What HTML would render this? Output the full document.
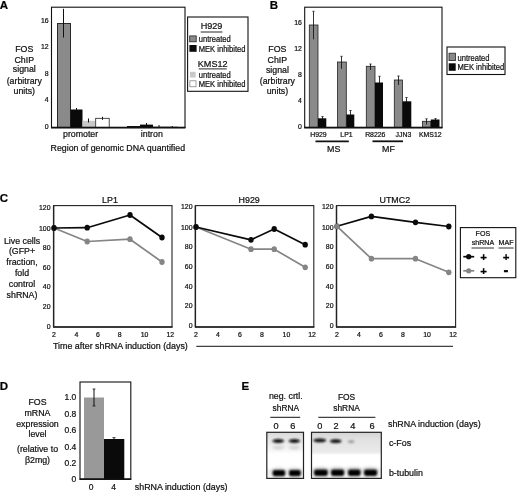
<!DOCTYPE html>
<html><head><meta charset="utf-8"><title>Figure</title>
<style>
html,body{margin:0;padding:0;background:#fff;}
body{width:520px;height:496px;overflow:hidden;}
svg{display:block;font-family:"Liberation Sans",Arial,sans-serif;}
text{stroke:#111;stroke-width:0.22px;}
</style></head><body>
<svg width="520" height="496" viewBox="0 0 520 496">
<rect width="520" height="496" fill="#fff"/>
<text x="-0.2" y="9.1" font-size="11.5" text-anchor="start" font-weight="bold" fill="#000" >A</text>
<rect x="57.5" y="23.5" width="13.0" height="104.0" fill="#8a8a8a" stroke="#2a2a2a" stroke-width="1"/>
<line x1="63.5" y1="8.8" x2="63.5" y2="37.5" stroke="#111" stroke-width="1" />
<rect x="70.5" y="109.5" width="12.0" height="18.0" fill="#0a0a0a" stroke="none" stroke-width="1"/>
<line x1="76.5" y1="108" x2="76.5" y2="110" stroke="#111" stroke-width="1" />
<rect x="82.5" y="120.8" width="13.0" height="6.7" fill="#c8c8c8" stroke="none" stroke-width="1"/>
<line x1="88.5" y1="118.5" x2="88.5" y2="122.5" stroke="#111" stroke-width="1" />
<rect x="95.7" y="118.3" width="13.5" height="9.2" fill="#fff" stroke="#222" stroke-width="0.8"/>
<line x1="102.5" y1="116.8" x2="102.5" y2="119.8" stroke="#111" stroke-width="1" />
<line x1="127" y1="126.5" x2="140" y2="126.5" stroke="#111" stroke-width="1" />
<rect x="140" y="124.6" width="13" height="2.9" fill="#0a0a0a" stroke="none" stroke-width="1"/>
<line x1="146.5" y1="123" x2="146.5" y2="125" stroke="#111" stroke-width="1" />
<line x1="159" y1="125" x2="159" y2="127" stroke="#111" stroke-width="1" />
<line x1="153" y1="127" x2="178" y2="127" stroke="#555" stroke-width="0.6" />
<line x1="172.3" y1="126" x2="172.3" y2="127" stroke="#111" stroke-width="1" />
<rect x="51.5" y="7.2" width="133.5" height="120.3" fill="none" stroke="#111" stroke-width="1.1"/>
<line x1="51" y1="127.6" x2="185.5" y2="127.6" stroke="#111" stroke-width="1.6" />
<text x="48.6" y="23.07" font-size="6.9" text-anchor="end" font-weight="normal" fill="#111" >16</text>
<text x="48.6" y="49.47" font-size="6.9" text-anchor="end" font-weight="normal" fill="#111" >12</text>
<text x="48.6" y="76.27" font-size="6.9" text-anchor="end" font-weight="normal" fill="#111" >8</text>
<text x="48.6" y="102.07" font-size="6.9" text-anchor="end" font-weight="normal" fill="#111" >4</text>
<text x="48.6" y="128.77" font-size="6.9" text-anchor="end" font-weight="normal" fill="#111" >0</text>
<text x="24.3" y="51.55" font-size="8.8" text-anchor="middle" font-weight="normal" fill="#111" >FOS</text>
<text x="24.3" y="62.55" font-size="8.8" text-anchor="middle" font-weight="normal" fill="#111" >ChIP</text>
<text x="24.3" y="72.49" font-size="8.8" text-anchor="middle" font-weight="normal" fill="#111" >signal</text>
<text x="24.3" y="83.99" font-size="8.8" text-anchor="middle" font-weight="normal" fill="#111" >(arbitrary</text>
<text x="24.3" y="93.99" font-size="8.8" text-anchor="middle" font-weight="normal" fill="#111" >units)</text>
<text x="80.6" y="137.39" font-size="8.8" text-anchor="middle" font-weight="normal" fill="#111" >promoter</text>
<text x="151.8" y="137.39" font-size="8.8" text-anchor="middle" font-weight="normal" fill="#111" >intron</text>
<text x="117.8" y="150.89" font-size="8.8" text-anchor="middle" font-weight="normal" fill="#111" >Region of genomic DNA quantified</text>
<rect x="187.6" y="17" width="60.4" height="74.3" fill="#fff" stroke="#111" stroke-width="1.1"/>
<text x="211.5" y="29.26" font-size="9.1" text-anchor="middle" font-weight="normal" fill="#111" >H929</text>
<line x1="200.7" y1="32" x2="222.5" y2="32" stroke="#111" stroke-width="0.9" />
<rect x="189.7" y="35.9" width="6.5" height="5.9" fill="#8a8a8a" stroke="#222" stroke-width="0.8"/>
<text transform="translate(198.7,41.83) scale(0.92,1)" font-size="8.26" text-anchor="start" fill="#111">untreated</text>
<rect x="189.4" y="45" width="7.2" height="6.8" fill="#0a0a0a" stroke="none" stroke-width="1"/>
<text transform="translate(198.7,51.83) scale(0.92,1)" font-size="8.26" text-anchor="start" fill="#111">MEK inhibited</text>
<text x="212.7" y="67.01" font-size="9.1" text-anchor="middle" font-weight="normal" fill="#111" >KMS12</text>
<line x1="198.7" y1="68.9" x2="226.7" y2="68.9" stroke="#111" stroke-width="0.9" />
<rect x="190" y="71.8" width="5.6" height="5.7" fill="#c8c8c8" stroke="none" stroke-width="1"/>
<text transform="translate(198.7,77.73) scale(0.92,1)" font-size="8.26" text-anchor="start" fill="#111">untreated</text>
<rect x="189.9" y="80.8" width="6.1" height="6.0" fill="#fff" stroke="#777" stroke-width="0.7"/>
<text transform="translate(198.7,86.73) scale(0.92,1)" font-size="8.26" text-anchor="start" fill="#111">MEK inhibited</text>
<text x="269.8" y="9.1" font-size="11.5" text-anchor="start" font-weight="bold" fill="#000" >B</text>
<rect x="309.3" y="25" width="8.7" height="102.5" fill="#8a8a8a" stroke="#222" stroke-width="0.8"/>
<line x1="313.5" y1="11.3" x2="313.5" y2="39.3" stroke="#111" stroke-width="0.85" />
<line x1="312.3" y1="11.3" x2="314.7" y2="11.3" stroke="#111" stroke-width="0.7" />
<rect x="318" y="118.3" width="8.3" height="9.2" fill="#0a0a0a" stroke="none" stroke-width="1"/>
<line x1="322.5" y1="116.6" x2="322.5" y2="119" stroke="#111" stroke-width="0.85" />
<line x1="321.3" y1="116.6" x2="323.7" y2="116.6" stroke="#111" stroke-width="0.7" />
<rect x="337.5" y="62" width="8.8" height="65.5" fill="#8a8a8a" stroke="#222" stroke-width="0.8"/>
<line x1="341.5" y1="56.3" x2="341.5" y2="68.8" stroke="#111" stroke-width="0.85" />
<line x1="340.3" y1="56.3" x2="342.7" y2="56.3" stroke="#111" stroke-width="0.7" />
<rect x="346.3" y="114.5" width="8.0" height="13.0" fill="#0a0a0a" stroke="none" stroke-width="1"/>
<line x1="350.5" y1="110.5" x2="350.5" y2="115" stroke="#111" stroke-width="0.85" />
<line x1="349.3" y1="110.5" x2="351.7" y2="110.5" stroke="#111" stroke-width="0.7" />
<rect x="366.3" y="66.3" width="8.7" height="61.2" fill="#8a8a8a" stroke="#222" stroke-width="0.8"/>
<line x1="370.5" y1="64" x2="370.5" y2="70" stroke="#111" stroke-width="0.85" />
<line x1="369.3" y1="64" x2="371.7" y2="64" stroke="#111" stroke-width="0.7" />
<rect x="375" y="82.5" width="8" height="45.0" fill="#0a0a0a" stroke="none" stroke-width="1"/>
<line x1="379.5" y1="76.3" x2="379.5" y2="83" stroke="#111" stroke-width="0.85" />
<line x1="378.3" y1="76.3" x2="380.7" y2="76.3" stroke="#111" stroke-width="0.7" />
<rect x="394.3" y="80" width="8.2" height="47.5" fill="#8a8a8a" stroke="#222" stroke-width="0.8"/>
<line x1="398.5" y1="76" x2="398.5" y2="85" stroke="#111" stroke-width="0.85" />
<line x1="397.3" y1="76" x2="399.7" y2="76" stroke="#111" stroke-width="0.7" />
<rect x="402.5" y="101.3" width="8.8" height="26.2" fill="#0a0a0a" stroke="none" stroke-width="1"/>
<line x1="406.5" y1="97.5" x2="406.5" y2="102" stroke="#111" stroke-width="0.85" />
<line x1="405.3" y1="97.5" x2="407.7" y2="97.5" stroke="#111" stroke-width="0.7" />
<rect x="422.5" y="121.3" width="8.3" height="6.2" fill="#8a8a8a" stroke="#222" stroke-width="0.8"/>
<line x1="426.5" y1="118.8" x2="426.5" y2="124.5" stroke="#111" stroke-width="0.85" />
<line x1="425.3" y1="118.8" x2="427.7" y2="118.8" stroke="#111" stroke-width="0.7" />
<rect x="430.8" y="119.5" width="8.7" height="8.0" fill="#0a0a0a" stroke="none" stroke-width="1"/>
<line x1="435.5" y1="118.6" x2="435.5" y2="120" stroke="#111" stroke-width="0.85" />
<line x1="434.3" y1="118.6" x2="436.7" y2="118.6" stroke="#111" stroke-width="0.7" />
<rect x="304.7" y="7.2" width="137.3" height="120.3" fill="none" stroke="#111" stroke-width="1.1"/>
<line x1="304.2" y1="127.6" x2="442.5" y2="127.6" stroke="#111" stroke-width="1.6" />
<text x="301.8" y="24.77" font-size="6.9" text-anchor="end" font-weight="normal" fill="#111" >16</text>
<text x="301.8" y="50.97" font-size="6.9" text-anchor="end" font-weight="normal" fill="#111" >12</text>
<text x="301.8" y="77.27" font-size="6.9" text-anchor="end" font-weight="normal" fill="#111" >8</text>
<text x="301.8" y="103.17" font-size="6.9" text-anchor="end" font-weight="normal" fill="#111" >4</text>
<text x="301.8" y="129.47" font-size="6.9" text-anchor="end" font-weight="normal" fill="#111" >0</text>
<text x="277.4" y="51.75" font-size="8.8" text-anchor="middle" font-weight="normal" fill="#111" >FOS</text>
<text x="277.4" y="62.85" font-size="8.8" text-anchor="middle" font-weight="normal" fill="#111" >ChIP</text>
<text x="277.4" y="72.99" font-size="8.8" text-anchor="middle" font-weight="normal" fill="#111" >signal</text>
<text x="277.4" y="84.19" font-size="8.8" text-anchor="middle" font-weight="normal" fill="#111" >(arbitrary</text>
<text x="277.4" y="94.29" font-size="8.8" text-anchor="middle" font-weight="normal" fill="#111" >units)</text>
<text x="318.4" y="137.07" font-size="6.9" text-anchor="middle" font-weight="normal" fill="#111" >H929</text>
<text x="346.5" y="137.07" font-size="6.9" text-anchor="middle" font-weight="normal" fill="#111" >LP1</text>
<text x="375.3" y="137.07" font-size="6.9" text-anchor="middle" font-weight="normal" fill="#111" >R8226</text>
<text x="403.4" y="137.07" font-size="6.9" text-anchor="middle" font-weight="normal" fill="#111" >JJN3</text>
<text x="430.3" y="137.07" font-size="6.9" text-anchor="middle" font-weight="normal" fill="#111" >KMS12</text>
<line x1="315.5" y1="141.3" x2="348.8" y2="141.3" stroke="#111" stroke-width="1.8" />
<line x1="372.5" y1="141.3" x2="403" y2="141.3" stroke="#111" stroke-width="1.8" />
<text x="333.7" y="152.49" font-size="8.9" text-anchor="middle" font-weight="normal" fill="#111" >MS</text>
<text x="388.5" y="152.49" font-size="8.9" text-anchor="middle" font-weight="normal" fill="#111" >MF</text>
<rect x="447" y="47" width="58" height="27.5" fill="#fff" stroke="#111" stroke-width="1.1"/>
<rect x="449" y="53.2" width="6.4" height="7.4" fill="#8a8a8a" stroke="#222" stroke-width="0.8"/>
<text transform="translate(457.5,60.63) scale(0.92,1)" font-size="8.26" text-anchor="start" fill="#111">untreated</text>
<rect x="448.7" y="63.3" width="7.0" height="7.5" fill="#0a0a0a" stroke="none" stroke-width="1"/>
<text transform="translate(457.5,70.13) scale(0.92,1)" font-size="8.26" text-anchor="start" fill="#111">MEK inhibited</text>
<text x="-0.2" y="202.1" font-size="11.5" text-anchor="start" font-weight="bold" fill="#000" >C</text>
<rect x="53.6" y="205.6" width="118.4" height="121.4" fill="none" stroke="#222" stroke-width="1.1"/>
<line x1="53.1" y1="327" x2="172.5" y2="327" stroke="#222" stroke-width="1.5" />
<line x1="53.6" y1="205.6" x2="53.6" y2="327" stroke="#222" stroke-width="1.4" />
<text x="110" y="202.69" font-size="8.9" text-anchor="middle" font-weight="normal" fill="#111" >LP1</text>
<text x="50.5" y="210.17" font-size="6.9" text-anchor="end" font-weight="normal" fill="#111" >120</text>
<text x="50.5" y="230.67" font-size="6.9" text-anchor="end" font-weight="normal" fill="#111" >100</text>
<text x="50.5" y="249.97" font-size="6.9" text-anchor="end" font-weight="normal" fill="#111" >80</text>
<text x="50.5" y="269.77" font-size="6.9" text-anchor="end" font-weight="normal" fill="#111" >60</text>
<text x="50.5" y="289.47" font-size="6.9" text-anchor="end" font-weight="normal" fill="#111" >40</text>
<text x="50.5" y="309.17" font-size="6.9" text-anchor="end" font-weight="normal" fill="#111" >20</text>
<text x="50.5" y="328.87" font-size="6.9" text-anchor="end" font-weight="normal" fill="#111" >0</text>
<text x="54" y="337.07" font-size="6.9" text-anchor="middle" font-weight="normal" fill="#111" >2</text>
<text x="76.3" y="337.07" font-size="6.9" text-anchor="middle" font-weight="normal" fill="#111" >4</text>
<text x="97.9" y="337.07" font-size="6.9" text-anchor="middle" font-weight="normal" fill="#111" >6</text>
<text x="119.7" y="337.07" font-size="6.9" text-anchor="middle" font-weight="normal" fill="#111" >8</text>
<text x="144.5" y="337.07" font-size="6.9" text-anchor="middle" font-weight="normal" fill="#111" >10</text>
<text x="170.3" y="337.07" font-size="6.9" text-anchor="middle" font-weight="normal" fill="#111" >12</text>
<polyline points="54,228 87.2,241.5 130,239.2 162,262" fill="none" stroke="#858585" stroke-width="1.7" stroke-linejoin="round"/>
<ellipse cx="54" cy="228" rx="2.7" ry="2.9" fill="#858585"/>
<ellipse cx="87.2" cy="241.5" rx="2.7" ry="2.9" fill="#858585"/>
<ellipse cx="130" cy="239.2" rx="2.7" ry="2.9" fill="#858585"/>
<ellipse cx="162" cy="262" rx="2.7" ry="2.9" fill="#858585"/>
<polyline points="54,228 87.2,227.7 130,215 162,237.5" fill="none" stroke="#0a0a0a" stroke-width="1.7" stroke-linejoin="round"/>
<ellipse cx="54" cy="228" rx="2.7" ry="2.9" fill="#0a0a0a"/>
<ellipse cx="87.2" cy="227.7" rx="2.7" ry="2.9" fill="#0a0a0a"/>
<ellipse cx="130" cy="215" rx="2.7" ry="2.9" fill="#0a0a0a"/>
<ellipse cx="162" cy="237.5" rx="2.7" ry="2.9" fill="#0a0a0a"/>
<rect x="195.4" y="205.6" width="118.4" height="121.4" fill="none" stroke="#222" stroke-width="1.1"/>
<line x1="194.9" y1="327" x2="314.3" y2="327" stroke="#222" stroke-width="1.5" />
<line x1="195.4" y1="205.6" x2="195.4" y2="327" stroke="#222" stroke-width="1.4" />
<text x="249.2" y="202.69" font-size="8.9" text-anchor="middle" font-weight="normal" fill="#111" >H929</text>
<text x="192.5" y="209.27" font-size="6.9" text-anchor="end" font-weight="normal" fill="#111" >120</text>
<text x="192.5" y="229.77" font-size="6.9" text-anchor="end" font-weight="normal" fill="#111" >100</text>
<text x="192.5" y="249.07" font-size="6.9" text-anchor="end" font-weight="normal" fill="#111" >80</text>
<text x="192.5" y="268.87" font-size="6.9" text-anchor="end" font-weight="normal" fill="#111" >60</text>
<text x="192.5" y="288.57" font-size="6.9" text-anchor="end" font-weight="normal" fill="#111" >40</text>
<text x="192.5" y="308.27" font-size="6.9" text-anchor="end" font-weight="normal" fill="#111" >20</text>
<text x="192.5" y="327.97" font-size="6.9" text-anchor="end" font-weight="normal" fill="#111" >0</text>
<text x="196" y="337.07" font-size="6.9" text-anchor="middle" font-weight="normal" fill="#111" >2</text>
<text x="218" y="337.07" font-size="6.9" text-anchor="middle" font-weight="normal" fill="#111" >4</text>
<text x="239.8" y="337.07" font-size="6.9" text-anchor="middle" font-weight="normal" fill="#111" >6</text>
<text x="261.9" y="337.07" font-size="6.9" text-anchor="middle" font-weight="normal" fill="#111" >8</text>
<text x="286.4" y="337.07" font-size="6.9" text-anchor="middle" font-weight="normal" fill="#111" >10</text>
<text x="312" y="337.07" font-size="6.9" text-anchor="middle" font-weight="normal" fill="#111" >12</text>
<polyline points="196,227 251,249.2 274.2,249.2 305.2,267.3" fill="none" stroke="#858585" stroke-width="1.7" stroke-linejoin="round"/>
<ellipse cx="196" cy="227" rx="2.7" ry="2.9" fill="#858585"/>
<ellipse cx="251" cy="249.2" rx="2.7" ry="2.9" fill="#858585"/>
<ellipse cx="274.2" cy="249.2" rx="2.7" ry="2.9" fill="#858585"/>
<ellipse cx="305.2" cy="267.3" rx="2.7" ry="2.9" fill="#858585"/>
<polyline points="196,227 251,239.8 274.2,229 305.2,244.7" fill="none" stroke="#0a0a0a" stroke-width="1.7" stroke-linejoin="round"/>
<ellipse cx="196" cy="227" rx="2.7" ry="2.9" fill="#0a0a0a"/>
<ellipse cx="251" cy="239.8" rx="2.7" ry="2.9" fill="#0a0a0a"/>
<ellipse cx="274.2" cy="229" rx="2.7" ry="2.9" fill="#0a0a0a"/>
<ellipse cx="305.2" cy="244.7" rx="2.7" ry="2.9" fill="#0a0a0a"/>
<rect x="336.5" y="205.6" width="119.1" height="121.4" fill="none" stroke="#222" stroke-width="1.1"/>
<line x1="336.0" y1="327" x2="456.1" y2="327" stroke="#222" stroke-width="1.5" />
<line x1="336.5" y1="205.6" x2="336.5" y2="327" stroke="#222" stroke-width="1.4" />
<text x="394.8" y="202.69" font-size="8.9" text-anchor="middle" font-weight="normal" fill="#111" >UTMC2</text>
<text x="333.5" y="209.27" font-size="6.9" text-anchor="end" font-weight="normal" fill="#111" >120</text>
<text x="333.5" y="229.77" font-size="6.9" text-anchor="end" font-weight="normal" fill="#111" >100</text>
<text x="333.5" y="249.07" font-size="6.9" text-anchor="end" font-weight="normal" fill="#111" >80</text>
<text x="333.5" y="268.87" font-size="6.9" text-anchor="end" font-weight="normal" fill="#111" >60</text>
<text x="333.5" y="288.57" font-size="6.9" text-anchor="end" font-weight="normal" fill="#111" >40</text>
<text x="333.5" y="308.27" font-size="6.9" text-anchor="end" font-weight="normal" fill="#111" >20</text>
<text x="333.5" y="327.97" font-size="6.9" text-anchor="end" font-weight="normal" fill="#111" >0</text>
<text x="337" y="337.07" font-size="6.9" text-anchor="middle" font-weight="normal" fill="#111" >2</text>
<text x="359" y="337.07" font-size="6.9" text-anchor="middle" font-weight="normal" fill="#111" >4</text>
<text x="381" y="337.07" font-size="6.9" text-anchor="middle" font-weight="normal" fill="#111" >6</text>
<text x="403" y="337.07" font-size="6.9" text-anchor="middle" font-weight="normal" fill="#111" >8</text>
<text x="427" y="337.07" font-size="6.9" text-anchor="middle" font-weight="normal" fill="#111" >10</text>
<text x="453" y="337.07" font-size="6.9" text-anchor="middle" font-weight="normal" fill="#111" >12</text>
<polyline points="337,226.3 371.4,216.4 415.5,222.3 448.8,226.5" fill="none" stroke="#0a0a0a" stroke-width="1.7" stroke-linejoin="round"/>
<ellipse cx="337" cy="226.3" rx="2.7" ry="2.9" fill="#0a0a0a"/>
<ellipse cx="371.4" cy="216.4" rx="2.7" ry="2.9" fill="#0a0a0a"/>
<ellipse cx="415.5" cy="222.3" rx="2.7" ry="2.9" fill="#0a0a0a"/>
<ellipse cx="448.8" cy="226.5" rx="2.7" ry="2.9" fill="#0a0a0a"/>
<polyline points="337,226.3 371.4,258.7 415.5,258.7 448.8,272.3" fill="none" stroke="#858585" stroke-width="1.7" stroke-linejoin="round"/>
<ellipse cx="337" cy="226.3" rx="2.7" ry="2.9" fill="#858585"/>
<ellipse cx="371.4" cy="258.7" rx="2.7" ry="2.9" fill="#858585"/>
<ellipse cx="415.5" cy="258.7" rx="2.7" ry="2.9" fill="#858585"/>
<ellipse cx="448.8" cy="272.3" rx="2.7" ry="2.9" fill="#858585"/>
<text x="22" y="243.59" font-size="8.8" text-anchor="middle" font-weight="normal" fill="#111" >Live cells</text>
<text x="22" y="254.45" font-size="8.8" text-anchor="middle" font-weight="normal" fill="#111" >(GFP+</text>
<text x="22" y="265.29" font-size="8.8" text-anchor="middle" font-weight="normal" fill="#111" >fraction,</text>
<text x="22" y="276.29" font-size="8.8" text-anchor="middle" font-weight="normal" fill="#111" >fold</text>
<text x="22" y="287.09" font-size="8.8" text-anchor="middle" font-weight="normal" fill="#111" >control</text>
<text x="22" y="297.95" font-size="8.8" text-anchor="middle" font-weight="normal" fill="#111" >shRNA)</text>
<text x="53" y="349.31" font-size="8.9" text-anchor="start" font-weight="normal" fill="#111" >Time after shRNA induction (days)</text>
<line x1="196.3" y1="346.3" x2="453" y2="346.3" stroke="#111" stroke-width="1" />
<rect x="460.4" y="227.6" width="55.4" height="50.1" fill="#fff" stroke="#111" stroke-width="1.1"/>
<text x="482.9" y="236.34" font-size="7.1" text-anchor="middle" font-weight="normal" fill="#111" >FOS</text>
<text x="482.9" y="244.84" font-size="7.1" text-anchor="middle" font-weight="normal" fill="#111" >shRNA</text>
<text x="506" y="244.84" font-size="7.1" text-anchor="middle" font-weight="normal" fill="#111" >MAF</text>
<line x1="471.5" y1="248" x2="494" y2="248" stroke="#333" stroke-width="1" />
<line x1="498.5" y1="248" x2="513.7" y2="248" stroke="#333" stroke-width="1" />
<line x1="463.3" y1="256.7" x2="474.2" y2="256.7" stroke="#0a0a0a" stroke-width="1.7" />
<circle cx="468.7" cy="256.7" r="2.6" fill="#0a0a0a"/>
<line x1="463.3" y1="270.8" x2="474.2" y2="270.8" stroke="#858585" stroke-width="1.7" />
<circle cx="468.7" cy="270.8" r="2.6" fill="#858585"/>
<text x="483.5" y="260.5" font-size="11.5" text-anchor="middle" font-weight="bold" fill="#000" >+</text>
<text x="506" y="260.5" font-size="11.5" text-anchor="middle" font-weight="bold" fill="#000" >+</text>
<text x="483.5" y="274.6" font-size="11.5" text-anchor="middle" font-weight="bold" fill="#000" >+</text>
<text x="506" y="274.6" font-size="13" text-anchor="middle" font-weight="bold" fill="#000" style="stroke-width:0.7px;stroke:#000">-</text>
<text x="-0.2" y="390.0" font-size="11.5" text-anchor="start" font-weight="bold" fill="#000" >D</text>
<rect x="84" y="397.5" width="20" height="81.5" fill="#999" stroke="none" stroke-width="1"/>
<line x1="94" y1="389" x2="94" y2="406" stroke="#111" stroke-width="1" />
<line x1="92.6" y1="389" x2="95.4" y2="389" stroke="#111" stroke-width="0.8" />
<line x1="92.6" y1="406" x2="95.4" y2="406" stroke="#111" stroke-width="0.8" />
<rect x="104" y="439" width="20.3" height="40" fill="#0a0a0a" stroke="none" stroke-width="1"/>
<line x1="114" y1="437.6" x2="114" y2="439" stroke="#111" stroke-width="1" />
<line x1="112.4" y1="437.6" x2="115.6" y2="437.6" stroke="#111" stroke-width="0.7" />
<rect x="80" y="382" width="50.8" height="97" fill="none" stroke="#111" stroke-width="1.1"/>
<line x1="79.5" y1="479.2" x2="131.3" y2="479.2" stroke="#111" stroke-width="1.5" />
<text x="76.3" y="400.04" font-size="8.5" text-anchor="end" font-weight="normal" fill="#111" >1.0</text>
<text x="76.3" y="416.74" font-size="8.5" text-anchor="end" font-weight="normal" fill="#111" >0.8</text>
<text x="76.3" y="433.34" font-size="8.5" text-anchor="end" font-weight="normal" fill="#111" >0.6</text>
<text x="76.3" y="449.64" font-size="8.5" text-anchor="end" font-weight="normal" fill="#111" >0.4</text>
<text x="76.3" y="466.04" font-size="8.5" text-anchor="end" font-weight="normal" fill="#111" >0.2</text>
<text x="76.3" y="482.04" font-size="8.5" text-anchor="end" font-weight="normal" fill="#111" >0</text>
<text x="37.5" y="405.15" font-size="8.8" text-anchor="middle" font-weight="normal" fill="#111" >FOS</text>
<text x="37.5" y="415.65" font-size="8.8" text-anchor="middle" font-weight="normal" fill="#111" >mRNA</text>
<text x="37.5" y="426.59" font-size="8.8" text-anchor="middle" font-weight="normal" fill="#111" >expression</text>
<text x="37.5" y="437.15" font-size="8.8" text-anchor="middle" font-weight="normal" fill="#111" >level</text>
<text x="37.5" y="451.85" font-size="8.8" text-anchor="middle" font-weight="normal" fill="#111" >(relative to</text>
<text x="37.5" y="462.65" font-size="8.8" text-anchor="middle" font-weight="normal" fill="#111" >β2mg)</text>
<text x="91" y="490.04" font-size="8.5" text-anchor="middle" font-weight="normal" fill="#111" >0</text>
<text x="113.7" y="490.04" font-size="8.5" text-anchor="middle" font-weight="normal" fill="#111" >4</text>
<text x="134.8" y="490.31" font-size="8.9" text-anchor="start" font-weight="normal" fill="#111" >shRNA induction (days)</text>
<text x="241.5" y="389.8" font-size="11.5" text-anchor="start" font-weight="bold" fill="#000" >E</text>
<text x="285.8" y="399.09" font-size="8.8" text-anchor="middle" font-weight="normal" fill="#111" >neg. crtl.</text>
<text x="285.8" y="410.81" font-size="8.4" text-anchor="middle" font-weight="normal" fill="#111" >shRNA</text>
<line x1="270.3" y1="417.3" x2="300.2" y2="417.3" stroke="#111" stroke-width="1" />
<text x="346.5" y="399.61" font-size="8.4" text-anchor="middle" font-weight="normal" fill="#111" >FOS</text>
<text x="346.5" y="410.81" font-size="8.4" text-anchor="middle" font-weight="normal" fill="#111" >shRNA</text>
<line x1="318.3" y1="417.3" x2="375.4" y2="417.3" stroke="#111" stroke-width="1" />
<text x="276" y="429.29" font-size="9.2" text-anchor="middle" font-weight="normal" fill="#111" >0</text>
<text x="292.7" y="429.29" font-size="9.2" text-anchor="middle" font-weight="normal" fill="#111" >6</text>
<text x="319.7" y="429.29" font-size="9.2" text-anchor="middle" font-weight="normal" fill="#111" >0</text>
<text x="336" y="429.29" font-size="9.2" text-anchor="middle" font-weight="normal" fill="#111" >2</text>
<text x="352.9" y="429.29" font-size="9.2" text-anchor="middle" font-weight="normal" fill="#111" >4</text>
<text x="372" y="429.29" font-size="9.2" text-anchor="middle" font-weight="normal" fill="#111" >6</text>
<text x="388" y="427.11" font-size="8.9" text-anchor="start" font-weight="normal" fill="#111" >shRNA induction (days)</text>
<text x="388.9" y="446.19" font-size="8.9" text-anchor="start" font-weight="normal" fill="#111" >c-Fos</text>
<text x="388.9" y="475.89" font-size="8.9" text-anchor="start" font-weight="normal" fill="#111" >b-tubulin</text>
<defs>
<linearGradient id="bg1" x1="0" y1="0" x2="0" y2="1"><stop offset="0" stop-color="#d9d9d9"/><stop offset="0.12" stop-color="#e4e4e4"/><stop offset="0.33" stop-color="#f2f2f2"/><stop offset="0.48" stop-color="#ffffff"/><stop offset="0.75" stop-color="#ffffff"/><stop offset="0.85" stop-color="#f0f0f0"/><stop offset="1" stop-color="#f4f4f4"/></linearGradient>
<linearGradient id="bg2" x1="0" y1="0" x2="0" y2="1"><stop offset="0" stop-color="#d4d4d4"/><stop offset="0.15" stop-color="#e2e2e2"/><stop offset="0.42" stop-color="#e9e9e9"/><stop offset="0.5" stop-color="#ffffff"/><stop offset="0.72" stop-color="#ffffff"/><stop offset="0.82" stop-color="#eeeeee"/><stop offset="1" stop-color="#f2f2f2"/></linearGradient>
<filter id="bl" x="-20%" y="-60%" width="140%" height="220%"><feGaussianBlur stdDeviation="0.8"/></filter>
<filter id="bl2" x="-20%" y="-80%" width="140%" height="260%"><feGaussianBlur stdDeviation="0.8"/></filter>
<filter id="bl3" x="-30%" y="-80%" width="160%" height="260%"><feGaussianBlur stdDeviation="1.6"/></filter>
</defs>
<rect x="266.8" y="432.3" width="36.7" height="46.1" fill="url(#bg1)" stroke="none" stroke-width="1"/>
<rect x="311.5" y="432.3" width="69.8" height="46.1" fill="url(#bg2)" stroke="none" stroke-width="1"/>
<clipPath id="cp"><rect x="266.8" y="432.3" width="36.7" height="46.1"/><rect x="311.5" y="432.3" width="69.8" height="46.1"/></clipPath><g clip-path="url(#cp)">
<g filter="url(#bl3)">
<ellipse cx="278.5" cy="447.5" rx="5.5" ry="1.8" fill="#cfcfcf"/>
<ellipse cx="278.5" cy="471" rx="7.5" ry="3.6" fill="#dcdcdc"/>
<ellipse cx="294.5" cy="447.5" rx="5.5" ry="1.8" fill="#cfcfcf"/>
<ellipse cx="294.5" cy="471" rx="7.5" ry="3.6" fill="#dcdcdc"/>
<ellipse cx="321" cy="470.5" rx="8" ry="3.8" fill="#d8d8d8"/>
<ellipse cx="337.5" cy="470.5" rx="8" ry="3.8" fill="#d8d8d8"/>
<ellipse cx="354.2" cy="470.5" rx="8" ry="3.8" fill="#d8d8d8"/>
<ellipse cx="370.5" cy="470.5" rx="8" ry="3.8" fill="#d8d8d8"/>
</g><g filter="url(#bl)">
<rect x="272.6" y="470" width="12.6" height="6.2" rx="2" fill="#050505"/>
<rect x="289" y="470" width="11.8" height="6.2" rx="2" fill="#050505"/>
<rect x="314" y="469.6" width="13.8" height="6.4" rx="2.2" fill="#050505"/>
<rect x="331" y="469.6" width="13.2" height="6.4" rx="2.2" fill="#050505"/>
<rect x="348" y="469.6" width="12.6" height="6.4" rx="2.2" fill="#050505"/>
<rect x="364" y="469.6" width="13.2" height="6.4" rx="2.2" fill="#050505"/>
</g><g filter="url(#bl2)">
<ellipse cx="278.25" cy="441" rx="5.95" ry="1.9" fill="#0a0a0a"/>
<ellipse cx="294.4" cy="441" rx="5.8" ry="1.9" fill="#0a0a0a"/>
<ellipse cx="319.75" cy="440.3" rx="6.45" ry="1.9" fill="#0a0a0a"/>
<ellipse cx="335.75" cy="441.2" rx="5.75" ry="1.9" fill="#0a0a0a"/>
<ellipse cx="351.2" cy="441.7" rx="3.2" ry="1.4" fill="#999"/>
</g></g>
<rect x="266.8" y="432.3" width="36.7" height="46.1" fill="none" stroke="#222" stroke-width="1.2"/>
<rect x="311.5" y="432.3" width="69.8" height="46.1" fill="none" stroke="#222" stroke-width="1.2"/>
</svg>
</body></html>
